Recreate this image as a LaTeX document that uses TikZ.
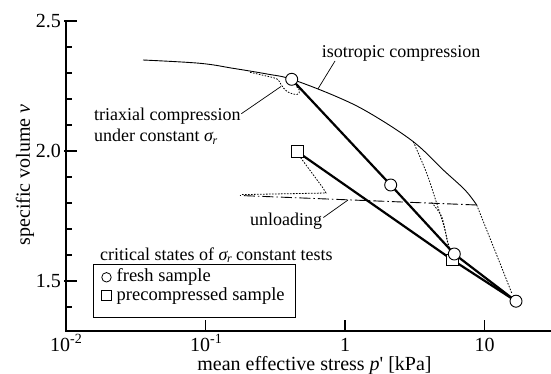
\documentclass[tikz,border=0pt]{standalone}
\usepackage{fontspec}
\setmainfont{Liberation Serif}
\newcommand{\sigr}{\textit{σ}\kern-0.06em\raisebox{-0.3ex}{\fontsize{12}{12}\selectfont\textit{r}}}
\newcommand{\supneg}[1]{\raisebox{0.8ex}{\fontsize{14}{14}\selectfont -#1}}
\begin{document}
\begin{tikzpicture}[x=1pt,y=-1pt,
  lbl/.style={font=\fontsize{18}{21}\selectfont, inner sep=0pt},
  leglbl/.style={font=\fontsize{18.5}{21}\selectfont, inner sep=0pt},
  ticklbl/.style={font=\fontsize{20}{24}\selectfont, inner sep=0pt},
  axlbl/.style={font=\fontsize{20}{24}\selectfont, inner sep=0pt},
  axisline/.style={line width=1.1pt},
  isocurve/.style={line width=0.9pt},
  dotpath/.style={line width=0.8pt, dash pattern=on 1.6pt off 1.4pt},
  dashdot/.style={line width=0.9pt, dash pattern=on 11pt off 3pt on 1.5pt off 3pt},
  thickpath/.style={line width=2.2pt},
  fmark/.style={circle, draw, fill=white, line width=0.9pt, minimum size=12pt, inner sep=0pt},
  pmark/.style={rectangle, draw, fill=white, line width=0.9pt, minimum size=11.5pt, inner sep=0pt},
  leader/.style={line width=0.7pt}]
\useasboundingbox (0,0) rectangle (551,374);

% axes
\coordinate (o) at (66,331);
\coordinate (ytop) at (66,21);
\coordinate (xend) at (551,331);
\draw[axisline] (ytop) -- (o) -- (xend);
\foreach \i in {0,...,11}{\draw[axisline] (66,{21+26*\i}) -- ++(6,0);}
\foreach \i in {0,5,10}{\draw[axisline] (64,{21+26*\i}) -- (77,{21+26*\i});}
\foreach \x in {205.5,345,484.5}{\draw[axisline] (\x,331) -- (\x,320);}

\node[ticklbl, anchor=east] (y25) at (61,21) {2.5};
\node[ticklbl, anchor=east] (y20) at (61,151) {2.0};
\node[ticklbl, anchor=east] (y15) at (61,281) {1.5};
\node[ticklbl, anchor=base] (x0) at (66,351) {10\supneg{2}};
\node[ticklbl, anchor=base] (x1) at (206,351) {10\supneg{1}};
\node[ticklbl, anchor=base] (x2) at (345,351) {1};
\node[ticklbl, anchor=base] (x3) at (484.5,351) {10};
\node[axlbl, anchor=base] (xlab) at (314.5,370) {mean effective stress \textit{p}\textquotesingle{} [kPa]};
\node[axlbl, rotate=90, anchor=center] (ylab) at (25,175) {specific volume \textit{v}};

% isotropic compression line
\coordinate (isoend) at (476.7,205);
\draw[isocurve] plot[smooth, tension=0.6] coordinates {(143,60) (200,63.3) (233,68.3) (267,74) (291.7,79.3) (336.7,96.7) (370,113.3) (413.3,141.7) (443.3,170) (465,190) (476.7,205)};

% unloading
\coordinate (unlstart) at (240,195.5);
\draw[dashdot] (isoend) -- (unlstart);

% stress paths (dotted)
\draw[dotpath] plot[smooth, tension=0.6] coordinates {(250,72.3) (264,75.5) (277,79) (281,84.5) (287,91.5) (297,94.5) (299.5,90.5) (296,86)};
\draw[dotpath] (242,194.6) -- (326,193) -- (323,188) -- (300.5,157.5);
\draw[dotpath] plot[smooth] coordinates {(431.7,202.5) (441.7,216.7) (446.7,238) (449.5,248)};
\draw[dotpath] plot[smooth] coordinates {(413.3,141.7) (426.7,173.3) (436.7,203.3) (445,230) (448.5,248)};
\draw[dotpath] plot[smooth] coordinates {(isoend) (486.7,230) (500,263.3) (511.7,293)};

% critical states
\coordinate (pc1) at (291.7,79.3);
\coordinate (pc2) at (390.7,185);
\coordinate (pc3) at (454.3,254);
\coordinate (pc4) at (516,301.2);
\coordinate (ps1) at (297.3,151.7);
\coordinate (ps2) at (452.5,260);
\draw[thickpath] (pc1) -- (pc2) -- (pc3) -- (pc4);
\draw[thickpath] (ps1) -- (ps2) -- (pc4);
\node[pmark] (s1) at (ps1) {};
\node[pmark] (s2) at (ps2) {};
\node[fmark] (c1) at (pc1) {};
\node[fmark] (c2) at (pc2) {};
\node[fmark] (c3) at (pc3) {};
\node[fmark] (c4) at (pc4) {};

% labels and leaders
\node[lbl, anchor=base west] (isolbl) at (321.7,58) {isotropic compression};
\coordinate (isoa) at (335,61);
\coordinate (isob) at (318,88.8);
\draw[leader] (isoa) -- (isob);

\node[lbl, anchor=base west] (tri1) at (94,120.7) {triaxial compression};
\node[lbl, anchor=base west] (tri2) at (94,141.7) {under constant \sigr};
\coordinate (tria) at (281,86.5);
\draw[leader] ([xshift=0.5pt,yshift=7pt]tri1.base east) -- (tria);

\node[lbl, anchor=base west] (unl) at (250,225) {unloading};
\coordinate (unla) at (348,200);
\draw[leader] ([xshift=1pt,yshift=7.5pt]unl.base east) -- (unla);

% legend
\node[lbl, anchor=base west] (legt) at (100,260) {critical states of \sigr{} constant tests};
\node[draw, line width=0.9pt, minimum width=201.7pt, minimum height=52.4pt, inner sep=0pt, anchor=north west] (legbox) at (93.3,264.3) {};
\node[fmark, line width=0.8pt, minimum size=9.5pt] (legc) at (106.5,277.3) {};
\node[leglbl, anchor=base west] (legf) at (116.5,281.3) {fresh sample};
\node[pmark, line width=0.8pt, minimum size=10pt] (legs) at (106.5,295.2) {};
\node[leglbl, anchor=base west] (legp) at (116.5,300.3) {precompressed sample};
\end{tikzpicture}
\end{document}
